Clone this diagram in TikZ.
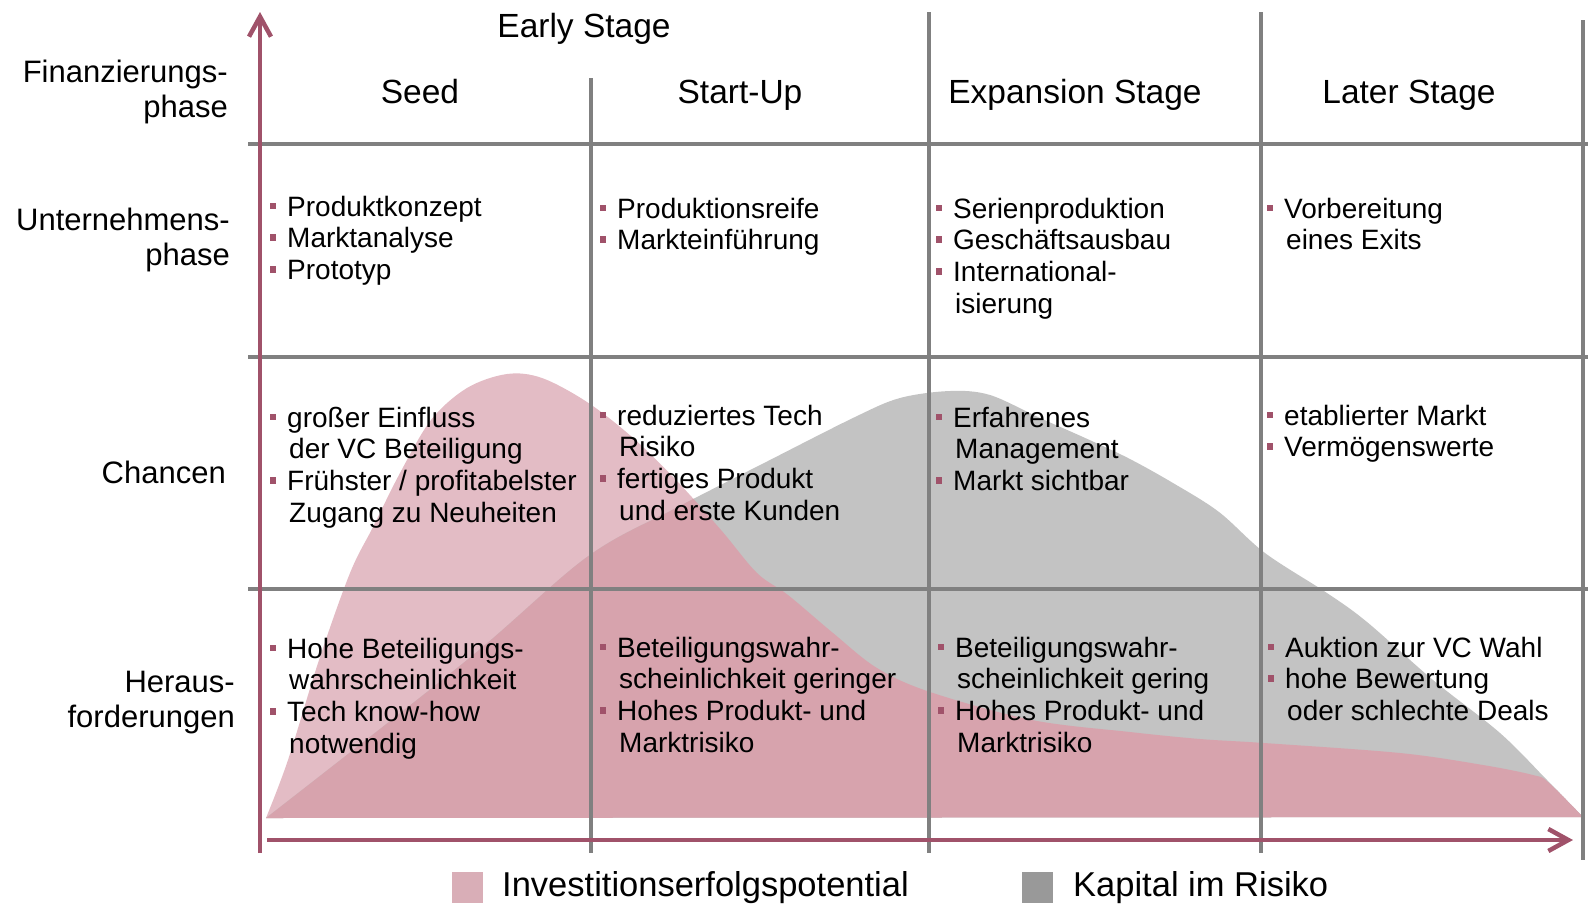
\documentclass[tikz,border=0pt]{standalone}
\usepackage{fontspec}
\setmainfont{Liberation Sans}
\usetikzlibrary{arrows.meta}

\definecolor{accent}{RGB}{160,82,106}
\definecolor{gridgray}{RGB}{128,128,128}
\definecolor{pinklight}{RGB}{227,188,197}
\definecolor{pinkdeep}{RGB}{215,163,173}
\definecolor{riskgray}{RGB}{195,195,195}
\definecolor{legpink}{RGB}{217,174,183}
\definecolor{leggray}{RGB}{153,153,153}

\newcommand\bodyfont{\fontsize{28}{31.8}\selectfont}
\newcommand\headfont{\fontsize{33.5}{38}\selectfont}
\newcommand\labelfont{\fontsize{31}{35}\selectfont}
\newcommand\legendfont{\fontsize{34.5}{38}\selectfont}
\newcommand\bul{\makebox[0pt][r]{\textcolor{accent}{\rule[7pt]{6.5pt}{6.5pt}}\hspace{11pt}}}
\newcommand\cont{\hspace*{2pt}}
\newcommand\cellbox[1]{\begin{tabular}[t]{@{}l@{}}#1\end{tabular}}
\newcommand\labelbox[1]{\begin{tabular}[t]{@{}r@{}}#1\end{tabular}}

% success potential curve and capital-at-risk curve
\newcommand\successcurve{plot[smooth,tension=0.55] coordinates {
  (266,818) (288,760) (319,660) (350,573) (373,527) (400,473) (431,420)
  (467,388) (507,374) (542,378) (587,402) (632,437) (676,480) (721,530)
  (757,573) (788,595) (833,633) (877,668) (930,692) (1032,720) (1130,732)
  (1200,739) (1264,743) (1400,753) (1483,765) (1533,775) (1548,782) (1583,817)}
  -- cycle}
\newcommand\riskcurve{plot[smooth,tension=0.55] coordinates {
  (266,818) (467,660) (587,557) (676,508) (766,462) (855,417) (900,398)
  (950,391) (990,395) (1040,418) (1083,437) (1128,458) (1173,483) (1219,512)
  (1265,553) (1327,593) (1367,622) (1433,680) (1500,733) (1547,780) (1583,817)}
  -- cycle}

\tikzset{
  gridline/.style={draw=gridgray, line width=3.2pt},
  axisline/.style={draw=accent, line width=4.5pt, -{Straight Barb[length=20pt,width=22pt]}},
  cell/.style={anchor=base west, inner sep=0pt, font=\bodyfont},
  head/.style={anchor=base, inner sep=0pt, font=\headfont},
  rowlabel/.style={anchor=base east, inner sep=0pt, font=\labelfont},
  legendtext/.style={anchor=base west, inner sep=0pt, font=\legendfont},
}

\begin{document}
\begin{tikzpicture}[x=1pt,y=-1pt]
\useasboundingbox (0,0) rectangle (1588,903);

% areas
\fill[pinklight] \successcurve;
\fill[riskgray] \riskcurve;
\begin{scope}
  \clip \successcurve;
  \fill[pinkdeep] \riskcurve;
\end{scope}

% table grid
\draw[gridline] (248,144) -- (1588,144);
\draw[gridline] (248,357) -- (1588,357);
\draw[gridline] (248,589) -- (1588,589);
\draw[gridline] (591,78) -- (591,853);
\draw[gridline] (929,12) -- (929,853);
\draw[gridline] (1261,12) -- (1261,853);
\draw[gridline] (1583,20) -- (1583,860);

% axes
\coordinate (ybottom) at (260,853);
\coordinate (ytop) at (260,12);
\coordinate (xleft) at (267,840);
\coordinate (xright) at (1573,840);
\draw[axisline] (xleft) -- (xright);
\draw[axisline] (ybottom) -- (ytop);

% stage headings
\node[head] (early) at (584,37) {Early Stage};
\node[head] (seed) at (420,103) {Seed};
\node[head] (startup) at (740,103) {Start-Up};
\node[head] (expansion) at (1075,103) {Expansion Stage};
\node[head] (later) at (1409,103) {Later Stage};

% row labels
\node[rowlabel] (lfin) at (228,82) {\labelbox{Finanzierungs-\\phase}};
\node[rowlabel] (lunt) at (230,230) {\labelbox{Unternehmens-\\phase}};
\node[rowlabel] (lcha) at (226,483) {\labelbox{Chancen}};
\node[rowlabel] (lher) at (235,692) {\labelbox{Heraus-\\forderungen}};

% Unternehmensphase
\node[cell] (u1) at (287,216) {\cellbox{\bul Produktkonzept\\ \bul Marktanalyse\\ \bul Prototyp}};
\node[cell] (u2) at (617,218) {\cellbox{\bul Produktionsreife\\ \bul Markteinführung}};
\node[cell] (u3) at (953,218) {\cellbox{\bul Serienproduktion\\ \bul Geschäftsausbau\\ \bul International-\\ \cont isierung}};
\node[cell] (u4) at (1284,218) {\cellbox{\bul Vorbereitung\\ \cont eines Exits}};

% Chancen
\node[cell] (c1) at (287,427) {\cellbox{\bul großer Einfluss\\ \cont der VC Beteiligung\\ \bul Frühster / profitabelster\\ \cont Zugang zu Neuheiten}};
\node[cell] (c2) at (617,425) {\cellbox{\bul reduziertes Tech\\ \cont Risiko\\ \bul fertiges Produkt\\ \cont und erste Kunden}};
\node[cell] (c3) at (953,427) {\cellbox{\bul Erfahrenes\\ \cont Management\\ \bul Markt sichtbar}};
\node[cell] (c4) at (1284,425) {\cellbox{\bul etablierter Markt\\ \bul Vermögenswerte}};

% Herausforderungen
\node[cell] (h1) at (287,658) {\cellbox{\bul Hohe Beteiligungs-\\ \cont wahrscheinlichkeit\\ \bul Tech know-how\\ \cont notwendig}};
\node[cell] (h2) at (617,657) {\cellbox{\bul Beteiligungswahr-\\ \cont scheinlichkeit geringer\\ \bul Hohes Produkt- und\\ \cont Marktrisiko}};
\node[cell] (h3) at (955,657) {\cellbox{\bul Beteiligungswahr-\\ \cont scheinlichkeit gering\\ \bul Hohes Produkt- und\\ \cont Marktrisiko}};
\node[cell] (h4) at (1285,657) {\cellbox{\bul Auktion zur VC Wahl\\ \bul hohe Bewertung\\ \cont oder schlechte Deals}};

% legend
\fill[legpink] (452,872) rectangle (483,903);
\node[legendtext] (legA) at (502,896) {Investitionserfolgspotential};
\fill[leggray] (1022,872) rectangle (1053,903);
\node[legendtext] (legB) at (1073,896) {Kapital im Risiko};
\end{tikzpicture}
\end{document}
